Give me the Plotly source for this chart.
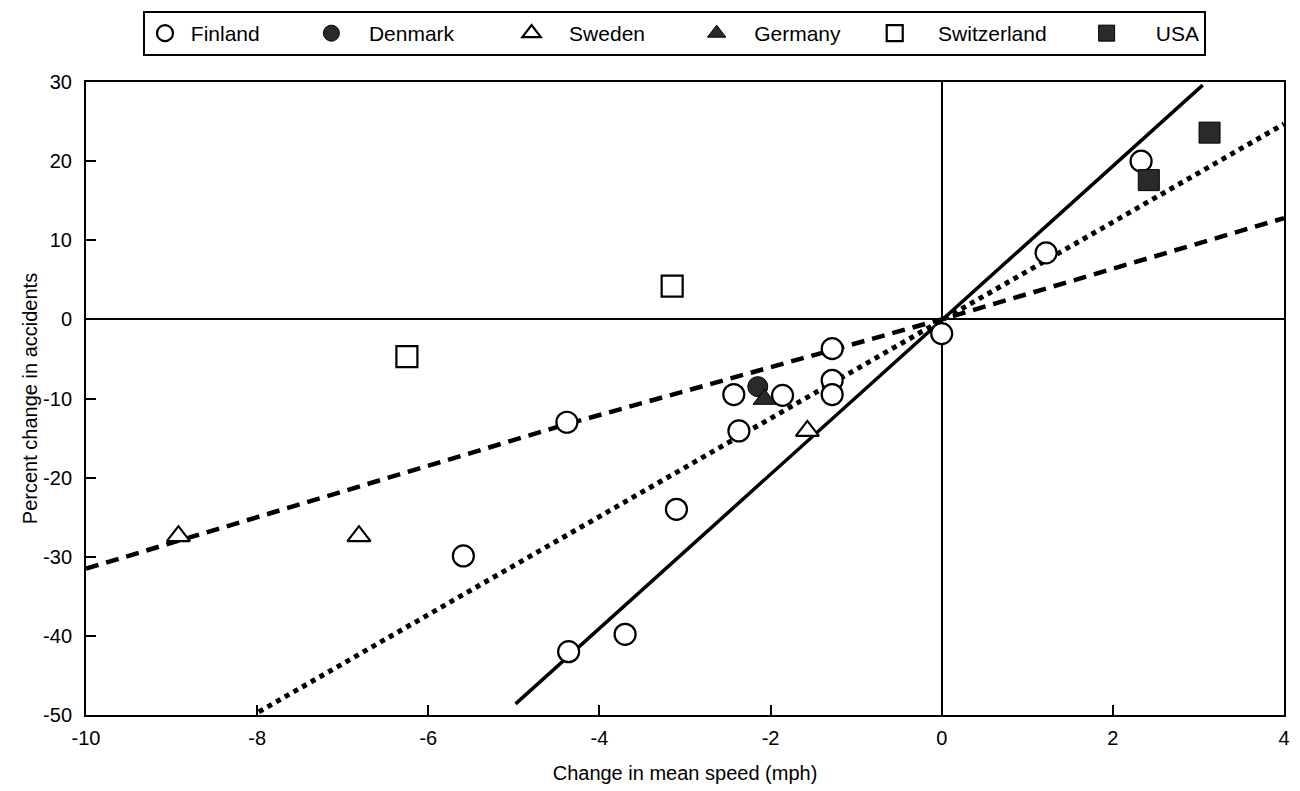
import plotly.graph_objects as go

# ---- data ----
finland_x = [2.33, 1.22, 0.0, -1.28, -1.28, -1.28, -1.86, -2.43, -2.37, -4.38, -3.1, -5.59, -3.7, -4.36]
finland_y = [20.0, 8.4, -1.8, -3.7, -7.7, -9.5, -9.6, -9.5, -14.1, -13.0, -24.0, -29.9, -39.8, -42.0]
denmark_x = [-2.15]
denmark_y = [-8.5]
sweden_x = [-8.92, -6.81, -1.57]
sweden_y = [-27.4, -27.4, -14.1]
germany_x = [-2.07]
germany_y = [-10.1]
switz_x = [-6.25, -3.15]
switz_y = [-4.7, 4.2]
usa_x = [2.42, 3.13]
usa_y = [17.6, 23.6]

solid_x = [-4.98, 3.05]
solid_y = [-48.6, 29.6]
dotted_x = [-7.98, 0.0, 4.0]
dotted_y = [-49.6, 0.0, 24.7]
dashed_x = [-10.0, -4.4, 0.0, 4.0]
dashed_y = [-31.5, -13.3, 0.0, 12.8]

x_ticks = [-10, -8, -6, -4, -2, 0, 2, 4]
y_ticks = [-50, -40, -30, -20, -10, 0, 10, 20, 30]

# legend labels (non-breaking spaces only adjust legend spacing)
NB = "\u00a0"
legend_names = {
    "Finland": NB * 1 + "Finland" + NB * 8,
    "Denmark": NB * 3 + "Denmark" + NB * 9,
    "Sweden": NB * 3 + "Sweden" + NB * 8,
    "Germany": NB * 3 + "Germany" + NB * 5,
    "Switzerland": NB * 4 + "Switzerland" + NB * 6,
    "USA": NB * 5 + "USA",
}

FONT = "Liberation Sans, Arial, sans-serif"

fig = go.Figure()

fig.add_trace(go.Scatter(x=solid_x, y=solid_y, mode="lines",
                         line=dict(color="black", width=3.5), showlegend=False, hoverinfo="skip"))
fig.add_trace(go.Scatter(x=dotted_x, y=dotted_y, mode="lines",
                         line=dict(color="black", width=5, dash="5px,5px"), showlegend=False, hoverinfo="skip"))
fig.add_trace(go.Scatter(x=dashed_x, y=dashed_y, mode="lines",
                         line=dict(color="black", width=4.5, dash="13px,8px"), showlegend=False, hoverinfo="skip"))

def pts(name, xs, ys, symbol, filled, size):
    fig.add_trace(go.Scatter(
        x=xs, y=ys, mode="markers", name=legend_names[name],
        marker=dict(symbol=symbol, size=size,
                    color="#2a2a2a" if filled else "white",
                    line=dict(color="black", width=2.2 if not filled else 1))))

pts("Finland", finland_x, finland_y, "circle", False, 21)
pts("Denmark", denmark_x, denmark_y, "circle", True, 20)
pts("Sweden", sweden_x, sweden_y, "triangle-up", False, 20)
pts("Germany", germany_x, germany_y, "triangle-up", True, 20)
pts("Switzerland", switz_x, switz_y, "square", False, 21)
pts("USA", usa_x, usa_y, "square", True, 21)

fig.update_layout(
    width=1292, height=783,
    margin=dict(l=78, r=16, t=74, b=76),
    paper_bgcolor="white", plot_bgcolor="white",
    font=dict(family=FONT, size=20, color="black"),
    legend=dict(orientation="h", xref="container", yref="container",
                x=135 / 1292, xanchor="left", y=1 - 3 / 783, yanchor="top",
                bordercolor="black", borderwidth=2, bgcolor="white",
                font=dict(size=21), itemsizing="trace", tracegroupgap=0),
    xaxis=dict(range=[-10, 4], tickvals=x_ticks, ticktext=[str(v) for v in x_ticks],
               showgrid=False, zeroline=True, zerolinecolor="black", zerolinewidth=1.5,
               showline=True, linecolor="black", linewidth=2, mirror=True,
               ticks="inside", ticklen=10, tickwidth=1.5, tickcolor="black",
               automargin=False, ticklabelstandoff=4,
               title=dict(text="Change in mean speed (mph)", font=dict(size=20), standoff=18),
               tickfont=dict(size=20)),
    yaxis=dict(range=[-50, 30], tickvals=y_ticks, ticktext=[str(v) for v in y_ticks],
               showgrid=False, zeroline=True, zerolinecolor="black", zerolinewidth=1.5,
               showline=True, linecolor="black", linewidth=2, mirror=True,
               ticks="inside", ticklen=10, tickwidth=1.5, tickcolor="black",
               automargin=False, ticklabelstandoff=8,
               title=dict(text="Percent change in accidents", font=dict(size=20), standoff=0),
               tickfont=dict(size=20)),
)

fig.write_html("out.html")
